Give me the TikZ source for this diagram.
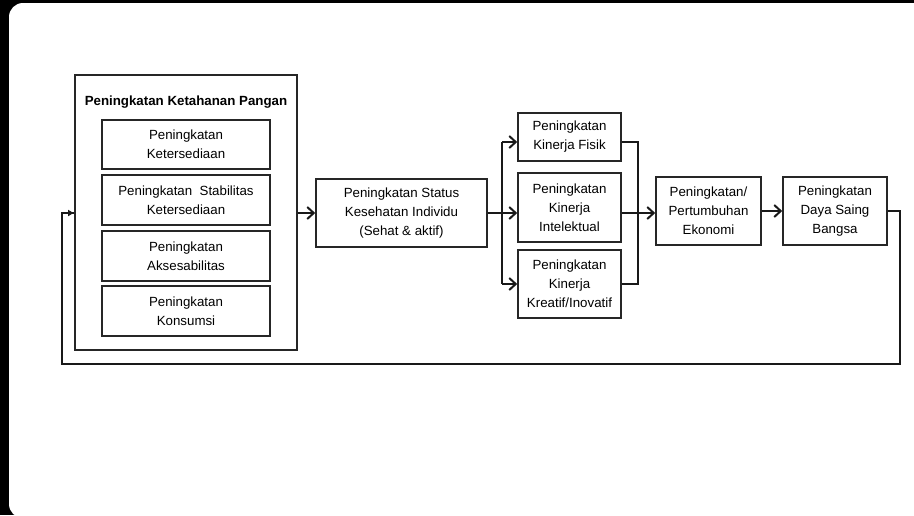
\documentclass[tikz,border=0pt]{standalone}
\usepackage{fontspec}
\setmainfont{Liberation Sans}
\usetikzlibrary{arrows.meta}
\begin{document}
\begin{tikzpicture}[x=1pt,y=-1pt,
  box/.style={draw=black!85,line width=1.6pt,fill=white,align=center,inner sep=0pt,
    font=\fontsize{13.3}{19}\selectfont},
  conn/.style={draw=black!90,line width=2.2pt},
  arr/.style={conn,-{Straight Barb[length=6.5pt,width=12pt,line width=2pt]}},
  farr/.style={conn,-{Latex[length=6pt,width=7pt]}}]
\useasboundingbox (0,0) rectangle (914,515);
\fill[black] (0,0) rectangle (914,515);
\begin{scope}
\clip (0,0) rectangle (914,515);
\fill[white,rounded corners=14pt] (9,3) rectangle (960,518);
\end{scope}
% left group
\node[box,minimum width=222pt,minimum height=275pt] (outer) at (186,212.5) {};
\node[font=\fontsize{13.3}{16}\selectfont\bfseries] (title) at (186,102) {Peningkatan Ketahanan Pangan};
\node[box,minimum width=168pt,minimum height=49pt] (b1) at (186,144.5) {Peningkatan\\Ketersediaan};
\node[box,minimum width=168pt,minimum height=50pt] (b2) at (186,200) {Peningkatan~ Stabilitas\\Ketersediaan};
\node[box,minimum width=168pt,minimum height=50pt] (b3) at (186,256) {Peningkatan\\Aksesabilitas};
\node[box,minimum width=168pt,minimum height=50pt] (b4) at (186,311) {Peningkatan\\Konsumsi};
% status
\node[box,minimum width=171pt,minimum height=68pt] (status) at (401.5,213) {Peningkatan Status\\Kesehatan Individu\\(Sehat \& aktif)};
% kinerja
\node[box,minimum width=103pt,minimum height=48pt] (fisik) at (569.5,137) {Peningkatan\\Kinerja Fisik};
\node[box,minimum width=103pt,minimum height=69pt] (intel) at (569.5,207.5) {Peningkatan\\Kinerja\\Intelektual};
\node[box,minimum width=103pt,minimum height=68pt] (kreatif) at (569.5,284) {Peningkatan\\Kinerja\\Kreatif/Inovatif};
% right
\node[box,minimum width=105pt,minimum height=68pt] (eko) at (708.5,211) {Peningkatan/\\Pertumbuhan\\Ekonomi};
\node[box,minimum width=104pt,minimum height=68pt] (daya) at (835,211) {Peningkatan\\Daya Saing\\Bangsa};
% junction coordinates
\coordinate (br) at (502,213);
\coordinate (mg) at (638,213);
\coordinate (rc) at (900,364);
\coordinate (lc) at (62,364);
% connectors
\draw[arr] (outer.east |- status.west) -- (status.west);
\draw[arr] (status.east) -- (status.east -| intel.west);
\draw[conn] (br |- fisik.west) ++(0,5) -- (br |- kreatif.west);
\draw[arr] ([yshift=-5pt]fisik.west -| br) -- ([yshift=-5pt]fisik.west);
\draw[arr] (br |- kreatif.west) -- (kreatif.west);
\draw[conn] ([yshift=-5pt]fisik.east) -| (mg);
\draw[conn] (kreatif.east) -| (mg);
\draw[conn] (intel.east |- mg) -- (mg);
\draw[arr] (mg) -- (mg -| eko.west);
\draw[arr] (eko.east) -- (daya.west);
\draw[conn] (daya.east) -| (rc) -- (lc) |- (outer.west |- status.west);
\draw[farr] (67,213) -- (outer.west |- status.west);
\end{tikzpicture}
\end{document}
